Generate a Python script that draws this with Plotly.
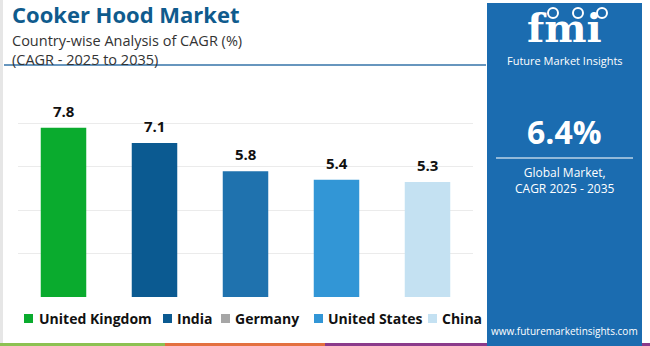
import plotly.graph_objects as go

# ---- data ----
countries = ["United Kingdom", "India", "Germany", "United States", "China"]
cagr = [7.8, 7.1, 5.8, 5.4, 5.3]
bar_colors = ["#0aab2e", "#0b5a91", "#1f72ae", "#3296d6", "#c4e1f2"]
legend_colors = ["#0aab2e", "#0b5a91", "#a6a6a6", "#3296d6", "#c4e1f2"]
y_ticks = [0, 2, 4, 6, 8, 10]
global_cagr = "6.4%"

W, H = 650, 346
FONT = "Open Sans"


def px(x):
    return x / W


def py(y):
    return 1 - y / H


fig = go.Figure(
    go.Bar(
        x=countries,
        y=cagr,
        marker=dict(color=bar_colors, line=dict(width=0)),
        width=0.5,
        showlegend=False,
        hoverinfo="skip",
    )
)

annotations = []
shapes = []

# value labels above bars (data coords)
for c, v in zip(countries, cagr):
    annotations.append(dict(
        x=c, y=v, xref="x", yref="y", text=f"<b>{v}</b>", showarrow=False,
        yanchor="bottom", yshift=5,
        font=dict(family=FONT, size=15, color="#111111"),
    ))

# background decorations
shapes.append(dict(type="rect", xref="paper", yref="paper", x0=0, x1=px(3), y0=0, y1=1,
                   fillcolor="#e6e6e6", line=dict(width=0), layer="below"))
# bottom stripe
for x0, x1, col in [(0, 165, "#8cc152"), (165, 325, "#e3703f"), (325, 650, "#8b3a8b")]:
    shapes.append(dict(type="rect", xref="paper", yref="paper", x0=px(x0), x1=px(x1),
                       y0=py(346), y1=py(343), fillcolor=col, line=dict(width=0)))
# title underline
shapes.append(dict(type="line", xref="paper", yref="paper", x0=px(4), x1=px(486),
                   y0=py(65), y1=py(65), line=dict(color="#3473a8", width=1.5)))
# right panel
shapes.append(dict(type="rect", xref="paper", yref="paper", x0=px(487), x1=px(642),
                   y0=0, y1=py(3), fillcolor="#1b6cb0", line=dict(width=0)))
shapes.append(dict(type="line", xref="paper", yref="paper", x0=px(496), x1=px(633),
                   y0=py(158), y1=py(158), line=dict(color="rgba(255,255,255,0.7)", width=1.5)))
# logo circles
for cx in [553, 578, 602]:
    shapes.append(dict(type="circle", xref="paper", yref="paper",
                       x0=px(cx - 5), x1=px(cx + 5), y0=py(18), y1=py(8),
                       fillcolor="#1b6cb0", line=dict(color="white", width=2)))

# titles
annotations += [
    dict(x=px(11), y=py(30), xref="paper", yref="paper", text="<b>Cooker Hood Market</b>",
         xanchor="left", yanchor="bottom", showarrow=False, borderpad=0,
         font=dict(family=FONT, size=22, color="#0f5b8d")),
    dict(x=px(11), y=py(30), xref="paper", yref="paper",
         text="Country-wise Analysis of CAGR (%)<br>(CAGR - 2025 to 2035)",
         xanchor="left", yanchor="top", align="left", showarrow=False, borderpad=0,
         font=dict(family=FONT, size=14.5, color="#333333")),
]

# legend (manual so Germany swatch can be grey)
legend_sq_x = [24, 163, 221, 314, 428]
legend_tx_x = [37, 175, 233, 326, 440]
for name, col, sx, tx in zip(countries, legend_colors, legend_sq_x, legend_tx_x):
    shapes.append(dict(type="rect", xref="paper", yref="paper", x0=px(sx), x1=px(sx + 9),
                       y0=py(323), y1=py(314), fillcolor=col, line=dict(width=0)))
    annotations.append(dict(x=px(tx), y=py(318), xref="paper", yref="paper",
                            text=f"<b>{name}</b>", xanchor="left", yanchor="middle",
                            showarrow=False, font=dict(family=FONT, size=14, color="#111111")))

# panel text
cx = px(564.5)
annotations += [
    dict(x=cx, y=py(52), xref="paper", yref="paper", text="<b>fmi</b>", showarrow=False,
         xanchor="center", yanchor="bottom", borderpad=0,
         font=dict(family="DejaVu Serif", size=40, color="white")),
    dict(x=cx, y=py(52), xref="paper", yref="paper", text="Future Market Insights", showarrow=False,
         xanchor="center", yanchor="top", borderpad=0,
         font=dict(family=FONT, size=11, color="white")),
    dict(x=cx, y=py(131), xref="paper", yref="paper", text=f"<b>{global_cagr}</b>", showarrow=False,
         xanchor="center", yanchor="middle", font=dict(family=FONT, size=32, color="white")),
    dict(x=cx, y=py(180), xref="paper", yref="paper", text="Global Market,<br>CAGR 2025 - 2035",
         showarrow=False, xanchor="center", yanchor="middle", align="center",
         font=dict(family=FONT, size=12, color="white")),
    dict(x=cx, y=py(331), xref="paper", yref="paper", text="www.futuremarketinsights.com",
         showarrow=False, xanchor="center", yanchor="middle",
         font=dict(family=FONT, size=10, color="white")),
]

fig.update_layout(
    width=W, height=H, autosize=False,
    margin=dict(l=0, r=0, t=0, b=0),
    paper_bgcolor="white", plot_bgcolor="white",
    xaxis=dict(domain=[px(18), px(473)], showticklabels=False, showgrid=False,
               zeroline=False, showline=False, ticks=""),
    yaxis=dict(domain=[py(297), py(80)], range=[0, 10.001], tickvals=y_ticks,
               showticklabels=False, showgrid=True, gridcolor="#ebebeb", gridwidth=1,
               zeroline=False, showline=False, ticks=""),
    shapes=shapes, annotations=annotations,
    font=dict(family=FONT),
)

fig.write_html("out.html")
